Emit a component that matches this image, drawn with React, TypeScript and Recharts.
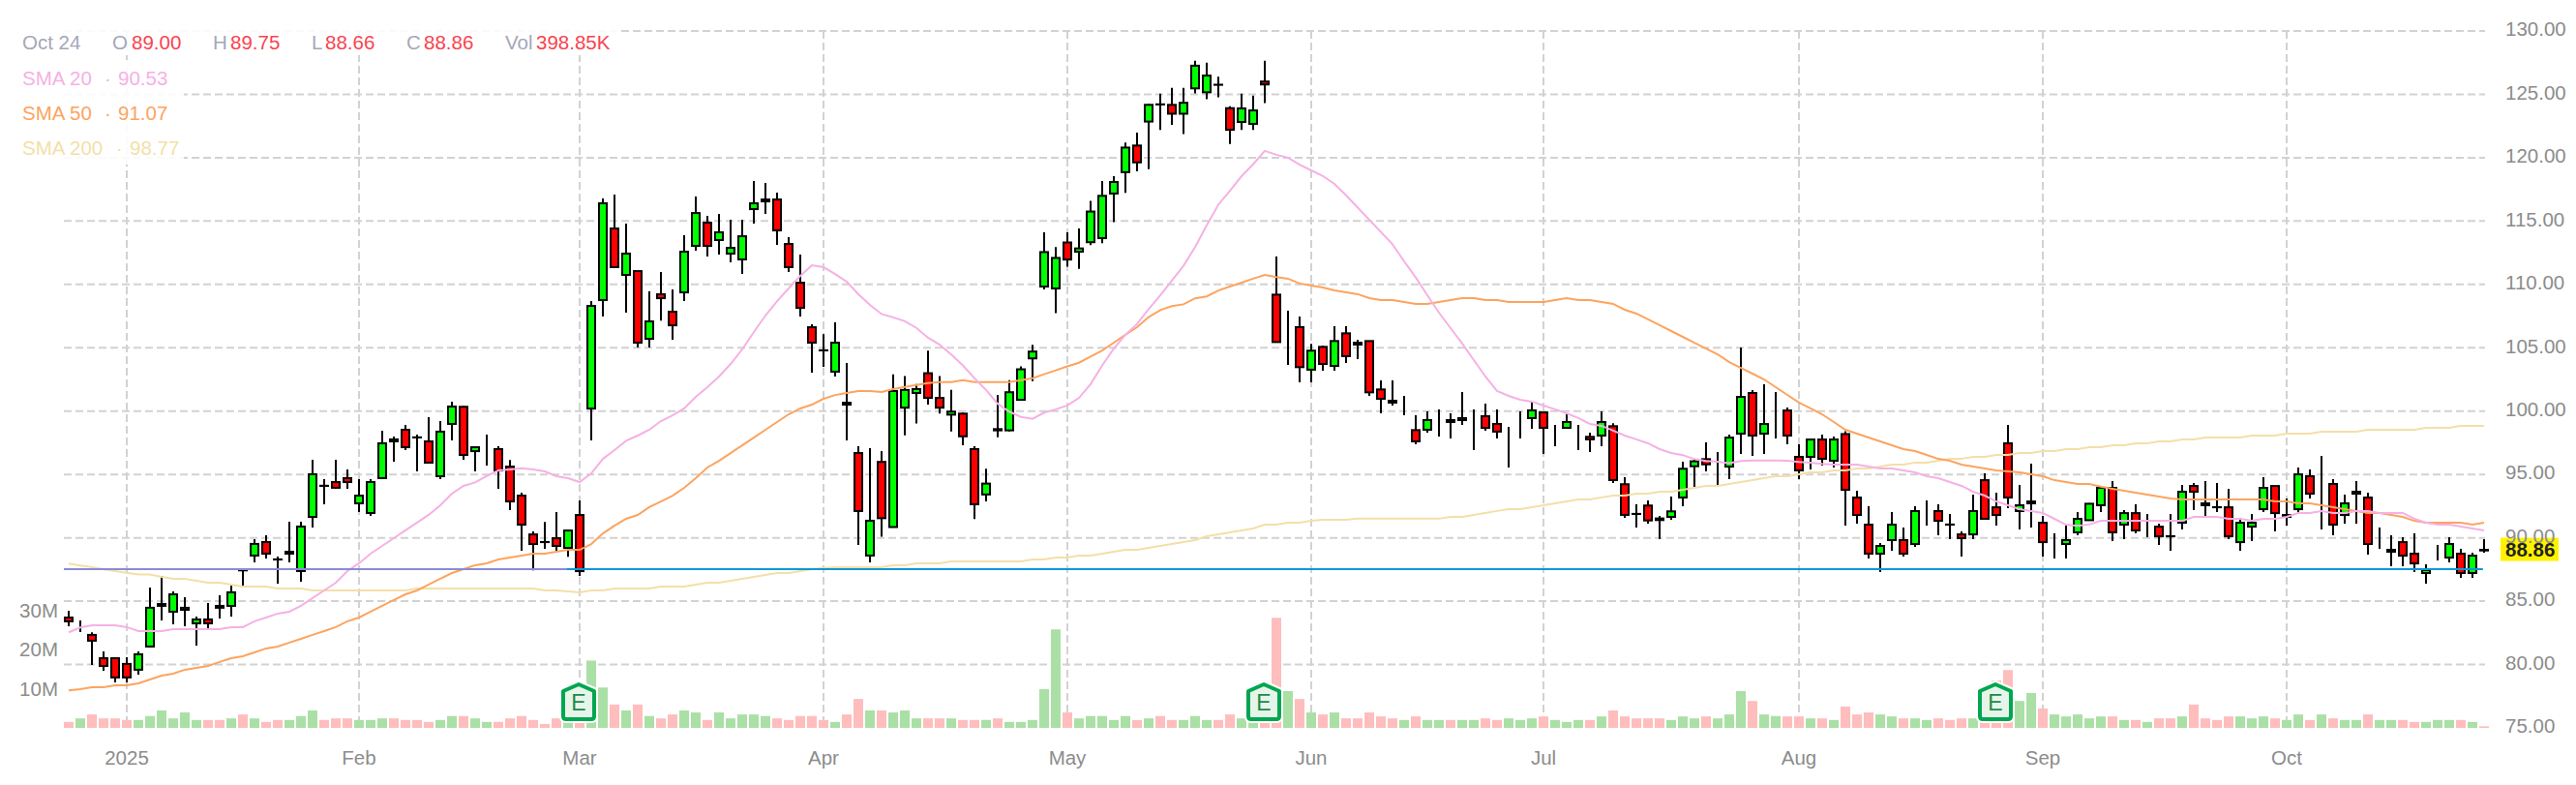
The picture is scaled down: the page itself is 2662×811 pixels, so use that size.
import { ComposedChart, Bar, Line, XAxis, YAxis, CartesianGrid, Cell, ReferenceLine, ReferenceDot } from 'recharts';

const opens = [
  83.71,83.10,82.34,80.50,80.50,80.05,79.59,81.42,84.63,84.17,
  84.32,83.25,83.56,84.63,84.63,87.44,88.60,89.67,88.30,88.75,
  87.38,91.65,94.11,94.40,94.71,92.72,91.96,94.71,97.77,98.53,
  97.93,97.61,94.86,98.99,100.34,96.84,97.00,97.00,95.62,93.33,
  90.27,89.67,89.97,89.20,91.80,100.20,108.76,114.41,110.75,111.05,
  105.70,109.22,107.84,109.37,113.04,114.87,113.50,112.43,111.97,115.94,
  116.55,116.70,113.19,110.13,106.62,104.80,103.11,100.66,96.69,88.60,
  95.99,90.85,100.27,101.43,102.99,101.04,99.72,99.80,97.00,93.42,
  98.58,98.48,100.89,104.16,109.83,109.68,113.31,112.58,113.33,113.65,
  117.17,118.86,120.96,122.85,124.21,124.17,123.47,125.47,125.16,125.76,
  123.91,122.82,122.67,126.01,109.19,106.63,106.63,103.27,105.07,103.57,
  106.14,105.40,105.53,101.71,100.82,100.21,98.50,98.53,98.68,99.29,
  99.29,98.83,99.60,98.99,98.38,98.53,99.45,99.90,98.38,98.68,
  97.61,97.97,98.07,98.81,94.23,91.89,92.55,91.53,91.65,93.18,
  95.65,96.21,95.77,95.62,98.22,101.43,98.22,99.75,100.05,96.39,
  96.39,97.76,96.08,98.19,93.18,91.04,88.75,89.82,89.82,89.51,
  91.65,92.11,91.05,90.27,90.27,94.55,92.41,97.46,92.11,92.72,
  91.19,89.82,89.51,90.43,91.39,92.57,93.94,91.04,91.95,90.88,
  90.88,90.13,91.19,94.09,92.72,92.42,92.41,89.66,90.88,92.26,
  94.09,91.65,92.26,94.86,93.79,94.25,91.80,93.48,93.18,90.12,
  88.90,89.66,88.75,87.22,88.44,88.44,88.75,87.22,89.05,
];

const highs = [
  84.24,83.48,82.54,81.04,80.58,80.58,81.04,86.08,87.00,85.77,
  85.32,83.79,84.86,85.47,86.23,87.58,89.90,90.20,88.52,91.27,
  91.27,96.16,94.63,96.16,95.40,94.63,94.63,98.45,97.99,98.91,
  98.15,99.52,99.22,100.74,100.41,97.22,98.14,97.22,96.15,93.56,
  90.50,91.26,92.03,90.65,92.95,108.68,116.78,117.09,114.79,111.05,
  109.45,110.97,109.60,113.88,116.93,115.41,115.56,115.10,115.10,118.16,
  118.00,117.24,113.72,112.35,106.85,106.08,107.00,103.79,97.22,97.08,
  96.85,102.91,102.76,102.13,104.78,102.76,101.67,99.88,97.23,95.45,
  101.28,102.44,103.53,105.24,114.11,112.94,114.11,114.42,116.60,118.16,
  118.54,121.19,121.97,124.25,125.05,125.52,125.52,127.65,127.49,126.40,
  124.07,125.05,124.90,127.65,112.20,107.93,107.47,105.30,105.15,106.70,
  106.70,105.63,105.56,102.43,102.43,101.20,99.67,99.98,100.13,99.83,
  101.51,100.13,100.59,100.13,98.76,99.98,100.75,99.98,98.91,99.83,
  98.91,98.30,99.98,99.04,94.79,92.65,92.95,91.73,93.26,96.00,
  96.16,97.53,96.77,98.14,105.02,101.66,102.11,101.50,100.28,97.38,
  97.81,98.14,97.99,98.42,93.71,92.49,89.59,92.03,90.81,92.49,
  92.95,92.64,91.88,90.50,93.41,95.09,93.56,98.91,94.17,95.85,
  91.73,90.35,90.96,92.03,92.75,93.99,94.48,92.18,92.64,91.88,
  91.11,91.88,94.17,94.32,94.48,94.32,93.87,91.57,91.88,94.78,
  94.09,93.10,95.55,95.39,96.46,94.63,93.41,94.48,93.56,90.81,
  90.20,90.05,90.35,87.91,89.43,90.05,89.13,88.82,89.89,
];

const lows = [
  83.02,82.57,79.97,79.51,78.59,78.59,79.20,81.34,83.48,83.18,
  83.02,81.50,82.87,83.64,83.79,86.08,88.07,88.37,86.38,88.07,
  86.54,90.81,92.65,93.87,93.87,92.04,91.73,94.63,96.01,96.92,
  95.25,95.86,94.63,97.69,96.16,95.24,95.70,93.86,92.18,88.97,
  87.44,89.13,88.97,88.51,87.00,97.68,107.46,111.36,107.77,105.02,
  105.02,107.15,105.63,108.68,112.66,112.20,112.35,111.74,110.82,114.79,
  115.56,113.11,110.97,107.46,103.03,103.49,102.72,97.68,89.43,88.07,
  90.08,90.85,98.09,99.02,100.52,99.80,98.40,97.31,91.48,92.88,
  97.93,98.40,100.81,102.37,109.60,107.73,111.39,111.23,113.10,113.26,
  114.92,117.22,118.93,119.09,122.18,122.59,121.87,125.08,124.61,124.77,
  121.09,122.18,122.18,124.30,105.40,103.65,102.27,102.27,103.19,103.19,
  103.80,104.11,101.20,99.83,100.44,99.67,97.38,98.30,97.99,97.84,
  98.91,96.93,98.45,97.84,95.55,97.84,98.61,96.62,97.23,98.63,
  96.93,96.77,97.23,94.33,91.58,90.81,91.12,89.90,91.42,92.49,
  94.02,95.24,94.17,94.63,96.62,96.46,96.62,97.84,97.38,94.63,
  95.39,95.70,95.55,90.96,91.11,88.37,87.30,88.98,88.52,89.28,
  90.96,90.20,89.89,88.52,89.89,91.42,90.96,92.34,90.66,90.81,
  88.52,88.37,88.37,90.20,91.35,92.03,89.74,89.89,90.35,90.04,
  89.43,88.98,90.66,92.18,91.57,92.03,89.89,88.98,89.74,92.03,
  90.50,90.96,91.88,93.10,90.66,90.20,91.11,91.11,88.67,89.13,
  87.75,87.75,87.30,86.38,88.21,88.06,86.84,86.84,88.82,
];

const closes = [
  83.41,83.10,81.88,79.89,78.98,78.98,80.81,84.48,84.78,85.54,
  84.48,83.56,83.25,84.48,85.70,87.43,89.52,88.75,88.29,88.90,
  90.89,95.02,94.10,93.95,94.40,93.33,94.40,97.46,97.61,97.15,
  97.92,95.93,98.38,100.36,96.54,97.15,97.00,95.31,92.87,91.04,
  89.51,89.66,89.36,90.58,87.37,108.30,116.40,111.36,112.43,105.40,
  107.08,108.91,106.77,112.58,115.63,113.04,114.11,112.88,113.80,116.40,
  116.70,114.26,111.36,108.15,105.40,104.79,105.40,100.51,92.11,91.35,
  91.55,101.59,101.67,101.74,101.04,100.27,99.96,98.01,92.65,94.28,
  98.48,101.49,103.30,104.70,112.55,112.09,111.96,112.84,115.75,116.99,
  118.08,120.80,119.63,124.17,124.20,123.47,124.33,127.26,126.48,125.75,
  122.20,123.89,123.73,125.78,105.45,106.63,103.47,104.77,103.72,105.53,
  104.34,105.25,101.48,100.97,100.67,100.21,97.61,99.29,98.68,99.14,
  99.45,98.83,98.68,98.38,98.38,98.53,100.06,98.68,98.38,99.14,
  97.61,97.77,99.14,94.56,91.81,91.88,91.37,91.40,92.09,95.45,
  96.04,95.80,95.77,97.91,101.12,98.07,98.98,99.75,98.07,95.32,
  97.76,96.23,97.76,93.79,91.80,88.75,89.36,91.04,88.75,92.11,
  91.65,91.34,91.04,89.97,92.11,91.50,91.80,93.18,92.57,92.87,
  89.66,89.82,89.82,91.50,92.69,93.94,90.43,91.95,90.58,90.88,
  90.12,90.12,93.64,93.64,92.57,92.41,90.12,91.19,91.19,93.94,
  91.95,91.80,95.01,93.48,93.79,91.04,92.72,93.64,89.51,90.12,
  89.05,88.59,87.98,87.45,88.44,89.51,87.22,88.59,89.00,
];

const volumesM = [
  1.5,2.4,3.4,2.4,2.4,2,2,3,4.4,2.4,
  3.9,2,2,2,2.4,3.4,2.4,1.5,2,2,
  3,4.4,2,2.4,2.4,2,2,2.4,2.4,2,
  2,1.5,2,3,3,2.4,1.5,1.5,2.4,3,
  2,1,2.4,1.5,1.5,17,10.2,5.9,4.4,5.9,
  3,2.4,3.4,4.4,3.9,2,3.9,2.4,3.4,3.4,
  3,2.4,2,3,3,2,1.5,3.4,7.3,4.4,
  4.4,3.9,4.4,2.4,2.4,2.4,2.4,2,2,2,
  2.4,1.5,1.5,2,9.8,24.9,3.9,2.4,3,3,
  2,3,2,2.4,3,2,2,3,2,2,
  3.4,2.4,1.5,1.5,27.8,9.3,7.3,3.9,3.4,3.9,
  2.4,2.4,3.9,2.9,2.4,2,2.9,2,2,2,
  2,2,2.4,2,2.4,2,2.4,2.9,2,1.5,
  2,2,2.9,4.4,2.9,2.4,2.4,2.4,2,2.9,
  2.4,2.9,2.4,3.4,9.3,6.8,3.4,3,2.9,2.9,
  2.4,2.4,2,5.4,3.4,3.9,3.4,2.9,2.4,2.4,
  2,2.4,2,2.4,2.4,2,12,14.6,6.8,8.8,
  4.9,3.4,2.9,3.4,2.4,2.9,2.9,2,2,1.5,
  2.4,2.4,2.9,5.9,2.4,2,2.9,2.9,2.4,2.9,
  2.4,2,3.4,2,3.4,2.4,2,2,3.4,2,
  2,2,1.5,1.5,2,2,2,1.5,0.4,
];

const sma20 = [
  82.54,82.92,83.10,83.10,83.10,82.95,82.64,82.64,82.64,82.79,
  82.79,82.79,82.79,82.79,82.95,82.95,83.41,83.71,84.02,84.17,
  84.63,85.24,85.85,86.46,87.38,87.99,88.75,89.36,89.97,90.59,
  91.20,91.81,92.57,93.49,94.10,94.37,94.88,95.32,95.39,95.50,
  95.39,95.24,94.86,94.71,94.40,95.09,96.23,96.92,97.66,98.07,
  98.53,99.21,99.67,100.21,101.12,101.89,102.73,103.72,104.87,106.24,
  107.54,108.68,109.68,110.67,111.51,111.36,110.82,110.21,109.22,108.38,
  107.66,107.40,107.09,106.57,105.79,105.24,104.47,103.61,102.60,101.67,
  100.58,99.96,99.54,99.39,99.88,100.14,100.45,101.04,102.13,103.61,
  104.93,106.02,106.88,108.04,109.13,110.30,111.47,112.94,114.66,116.29,
  117.38,118.54,119.48,120.54,120.23,120.0,119.45,119.0,118.56,117.93,
  117.03,null,null,null,113.17,111.82,110.55,109.15,107.77,106.55,
  105.33,104.03,102.73,101.59,101.2,100.9,100.75,100.44,100.14,99.83,
  99.45,98.99,98.84,98.46,98.07,97.77,97.46,97.0,96.7,96.53,
  96.21,96.06,96.0,95.9,96.06,96.11,96.11,96.11,96.08,95.98,
  95.93,95.83,95.78,95.78,95.78,95.62,95.47,95.47,95.32,95.17,
  94.86,94.71,94.4,94.1,93.64,93.33,92.87,92.57,92.26,92.11,
  91.96,91.5,91.04,90.94,91.05,91.34,91.34,91.34,91.34,91.34,
  91.34,91.34,91.34,91.65,91.65,91.65,91.5,91.5,91.34,91.5,
  91.5,91.65,91.96,91.96,92.11,91.96,91.96,92.11,92.11,91.96,
  91.96,91.96,91.5,91.19,91.04,91.04,90.89,90.73,90.58,
];

const sma50 = [
  77.96,78.06,78.21,78.21,78.36,78.36,78.52,78.82,79.13,79.28,
  79.59,79.74,79.89,80.2,80.5,80.66,80.96,81.27,81.42,81.73,
  82.03,82.34,82.64,82.95,83.41,83.71,84.17,84.63,85.09,85.54,
  85.85,86.31,86.77,87.22,87.53,87.84,87.99,88.29,88.45,88.6,
  88.75,88.75,88.9,89.06,89.05,89.51,90.35,90.96,91.5,91.8,
  92.42,92.87,93.33,93.94,94.71,95.55,96.08,96.69,97.3,97.91,
  98.53,99.14,99.75,100.21,100.51,100.97,101.27,101.43,101.58,101.58,
  101.51,101.74,101.90,102.06,102.21,102.29,102.29,102.45,102.29,102.29,
  102.29,102.29,102.45,102.60,102.91,103.22,103.53,103.82,104.31,104.78,
  105.40,106.02,106.62,107.42,107.97,108.28,108.43,108.90,109.05,109.52,
  109.83,110.14,110.45,110.74,110.58,110.45,110.07,109.91,109.76,109.53,
  109.38,109.23,108.92,108.77,108.77,108.61,108.46,108.46,108.61,108.77,
  108.92,108.92,108.77,108.77,108.61,108.61,108.61,108.61,108.77,108.92,
  108.77,108.77,108.61,108.46,108.0,107.70,107.24,106.78,106.32,105.86,
  105.40,104.94,104.48,103.87,103.41,102.96,102.5,101.89,101.28,100.67,
  100.21,99.75,99.14,98.53,98.22,97.92,97.61,97.31,97.0,96.85,
  96.54,96.23,96.08,95.78,95.62,95.47,95.32,95.24,95.17,95.01,
  94.86,94.55,94.4,94.25,94.25,94.04,93.87,93.71,93.56,93.41,
  93.25,93.10,93.02,93.02,93.02,93.02,93.02,93.02,93.02,93.02,
  92.87,92.87,92.72,92.72,92.57,92.41,92.26,92.11,91.96,91.96,
  91.80,91.65,91.34,91.19,91.19,91.19,91.19,91.04,91.19,
];

const sma200 = [
  87.96,87.81,87.68,87.53,87.38,87.25,87.10,87.10,86.92,86.77,
  86.77,86.61,86.46,86.46,86.31,86.15,86.15,86.15,86.0,86.0,
  86.0,85.85,85.85,85.85,85.85,85.85,85.85,85.85,85.85,85.85,
  86.0,86.0,86.0,86.0,86.0,86.0,86.0,86.0,86.0,86.0,
  86.0,85.85,85.85,85.77,85.69,85.85,85.85,86.0,86.0,86.0,
  86.0,86.15,86.15,86.15,86.31,86.46,86.46,86.61,86.77,86.92,
  87.07,87.22,87.22,87.38,87.53,87.63,87.68,87.68,87.68,87.68,
  87.68,87.84,87.84,87.99,87.99,87.99,88.14,88.14,88.14,88.14,
  88.14,88.14,88.14,88.29,88.29,88.45,88.45,88.6,88.6,88.75,
  88.9,89.06,89.06,89.21,89.36,89.52,89.67,89.82,90.13,90.28,
  90.43,90.59,90.74,91.04,91.04,91.2,91.2,91.35,91.43,91.43,
  91.43,91.51,91.51,91.51,91.51,91.51,91.51,91.51,91.51,91.66,
  91.66,91.81,91.96,92.12,92.27,92.27,92.42,92.57,92.73,92.88,
  93.03,93.03,93.19,93.34,93.34,93.49,93.49,93.64,93.64,93.80,
  93.95,94.10,94.10,94.25,94.41,94.56,94.71,94.87,94.87,95.02,
  95.17,95.17,95.32,95.32,95.48,95.48,95.63,95.78,95.78,95.94,
  95.94,96.09,96.23,96.23,96.39,96.39,96.54,96.54,96.70,96.70,
  96.85,96.85,97.0,97.0,97.16,97.16,97.31,97.31,97.46,97.46,
  97.61,97.61,97.77,97.77,97.92,97.92,97.92,97.92,98.07,98.07,
  98.07,98.22,98.22,98.22,98.38,98.38,98.38,98.38,98.53,98.53,
  98.53,98.53,98.53,98.68,98.68,98.68,98.84,98.84,98.84,
];

// index of the first session of each month, and its label
const monthTicks = [5, 25, 44, 65, 86, 107, 127, 149, 170, 191];
const monthLabels = ['2025', 'Feb', 'Mar', 'Apr', 'May', 'Jun', 'Jul', 'Aug', 'Sep', 'Oct'];
const priceTicks = [75, 80, 85, 90, 95, 100, 105, 110, 115, 120, 125, 130];
const gridPrices = [80, 85, 90, 95, 100, 105, 110, 115, 120, 125, 130];
const volumeTicks = [10, 20, 30];
const earningsSessions = [44, 103, 166];
const supportLevel = 87.52;
const lastClose = 88.86;

const quoteLabels = ['O', 'H', 'L', 'C', 'Vol'];
const quoteValues = ['89.00', '89.75', '88.66', '88.86', '398.85K'];
const smaNames = ['SMA 20', 'SMA 50', 'SMA 200'];
const smaValues = ['90.53', '91.07', '98.77'];

const rows = opens.map((open, i) => ({
  i,
  open,
  high: highs[i],
  low: lows[i],
  close: closes[i],
  volume: volumesM[i],
  sma20: sma20[i],
  sma50: sma50[i],
  sma200: sma200[i],
}));

const FONT = '"Liberation Sans", Arial, sans-serif';
const TEXT_SIZE = 20.5;
const GRID = '#d2d2d2';
const AXIS_TEXT = '#8c8c8c';
const SMA_COLORS = ['#f5b1e4', '#fca45f', '#f3dfa8'];
const X_DOMAIN: [number, number] = [-0.4167, 208.083];

function Candle(props: any) {
  const { x, y, width, height, payload } = props;
  const top = Math.min(y, y + height);
  const span = Math.abs(height);
  const toY = (p: number) => top + ((payload.high - p) / (payload.high - payload.low)) * span;
  const cx = Math.round(x + width / 2);
  const bodyTop = toY(Math.max(payload.open, payload.close));
  const bodyBottom = toY(Math.min(payload.open, payload.close));
  const up = payload.close >= payload.open;
  return (
    <g>
      <line x1={cx} x2={cx} y1={top} y2={top + span} stroke="#000" strokeWidth={2} />
      <rect
        x={cx - 4}
        y={bodyTop}
        width={8}
        height={Math.max(bodyBottom - bodyTop, 0)}
        fill={up ? '#00ff00' : '#ff0000'}
        stroke="#000"
        strokeWidth={2}
      />
    </g>
  );
}

function EarningsBadge(props: any) {
  const { cx, cy } = props;
  const x = cx - 1;
  const path = `M ${x} ${cy - 18} L ${x + 16} ${cy - 11} L ${x + 16} ${cy + 15} Q ${x + 16} ${cy + 18} ${x + 13} ${cy + 18} L ${x - 13} ${cy + 18} Q ${x - 16} ${cy + 18} ${x - 16} ${cy + 15} L ${x - 16} ${cy - 11} Z`;
  return (
    <g>
      <path d={path} fill="none" stroke="#fff" strokeWidth={8} strokeLinejoin="round" />
      <path d={path} fill="#e6f5ea" stroke="#00a651" strokeWidth={4} strokeLinejoin="round" />
      <text x={x} y={cy + 9} textAnchor="middle" fontSize={23} fontFamily={FONT} fill="#1d8a47">E</text>
    </g>
  );
}

function PriceTag(props: any) {
  const { cx, cy } = props;
  return (
    <g>
      <rect x={cx + 17} y={cy - 15} width={60} height={24} fill="#fff200" />
      <text x={cx + 22} y={cy + 4} fontSize={20.5} fontWeight="bold" fontFamily={FONT} fill="#222">{lastClose.toFixed(2)}</text>
    </g>
  );
}

const quoteX = [[116, 136], [220, 238], [322, 336], [420, 438], [522, 554]];
const smaRowY = [69, 105, 141];
const smaValueX = [122, 122, 134];

function Header() {
  const base: any = { position: 'absolute', fontFamily: FONT, fontSize: TEXT_SIZE, lineHeight: '23px', whiteSpace: 'nowrap' };
  return (
    <>
      <div style={{ position: 'absolute', left: 18, top: 26, width: 622, height: 31, background: 'rgba(255,255,255,0.88)' }} />
      <div style={{ position: 'absolute', left: 18, top: 62, width: 172, height: 108, background: 'rgba(255,255,255,0.88)' }} />
      <span style={{ ...base, left: 23, top: 32, color: '#a4a7ba' }}>Oct 24</span>
      {quoteLabels.map((label, i) => (
        <span key={label}>
          <span style={{ ...base, left: quoteX[i][0], top: 32, color: '#a4a7ba' }}>{label}</span>
          <span style={{ ...base, left: quoteX[i][1], top: 32, color: '#f9434f' }}>{quoteValues[i]}</span>
        </span>
      ))}
      {smaNames.map((name, i) => (
        <span key={name}>
          <span style={{ ...base, left: 23, top: smaRowY[i], color: SMA_COLORS[i] }}>{name}</span>
          <span style={{ ...base, left: smaValueX[i] - 14, top: smaRowY[i], color: SMA_COLORS[i] }}>·</span>
          <span style={{ ...base, left: smaValueX[i], top: smaRowY[i], color: SMA_COLORS[i] }}>{smaValues[i]}</span>
        </span>
      ))}
    </>
  );
}

export default function App() {
  return (
    <div style={{ position: 'absolute', left: 0, top: 0, width: 2662, height: 811, background: '#fff', overflow: 'hidden' }}>
      <ComposedChart width={2662} height={811} data={rows} margin={{ top: 32, right: 0, bottom: 0, left: 0 }}>
        <CartesianGrid
          xAxisId="main"
          yAxisId="price"
          stroke={GRID}
          strokeWidth={2}
          strokeDasharray="8 4"
          syncWithTicks
          verticalValues={monthTicks}
          horizontalValues={gridPrices}
        />
        <XAxis
          xAxisId="main"
          dataKey="i"
          type="number"
          domain={X_DOMAIN}
          ticks={monthTicks}
          interval={0}
          height={59}
          tickLine={false}
          axisLine={false}
          tickMargin={17}
          tickFormatter={(v: number) => monthLabels[monthTicks.indexOf(v)]}
          tick={{ fontSize: TEXT_SIZE, fontFamily: FONT, fill: AXIS_TEXT }}
        />
        <XAxis xAxisId="vol" dataKey="i" type="number" domain={X_DOMAIN} hide />
        <YAxis
          yAxisId="volume"
          orientation="left"
          width={66}
          domain={[0, 176]}
          ticks={volumeTicks}
          interval={0}
          tickLine={false}
          axisLine={false}
          tickMargin={0}
          tickFormatter={(v: number) => `${v}M`}
          tick={{ fontSize: TEXT_SIZE, fontFamily: FONT, fill: AXIS_TEXT, dy: 1 }}
        />
        <YAxis
          yAxisId="price"
          orientation="right"
          width={94}
          domain={[75, 130]}
          ticks={priceTicks}
          interval={0}
          tickLine={false}
          axisLine={false}
          tickMargin={15}
          tickFormatter={(v: number) => v.toFixed(2)}
          tick={{ fontSize: TEXT_SIZE, fontFamily: FONT, fill: AXIS_TEXT, dy: -2 }}
        />
        <Bar xAxisId="vol" yAxisId="volume" dataKey="volume" barSize={10} isAnimationActive={false}>
          {rows.map((r) => (
            <Cell key={r.i} fill={r.close >= r.open ? '#aae0a6' : '#ffbdbd'} />
          ))}
        </Bar>
        <Bar
          xAxisId="main"
          yAxisId="price"
          dataKey={(r: any) => [r.low, r.high]}
          barSize={10}
          shape={Candle}
          isAnimationActive={false}
        />
        <Line xAxisId="main" yAxisId="price" dataKey="sma200" stroke={SMA_COLORS[2]} strokeWidth={2} dot={false} connectNulls isAnimationActive={false} />
        <Line xAxisId="main" yAxisId="price" dataKey="sma50" stroke={SMA_COLORS[1]} strokeWidth={2} dot={false} connectNulls isAnimationActive={false} />
        <Line xAxisId="main" yAxisId="price" dataKey="sma20" stroke={SMA_COLORS[0]} strokeWidth={2} dot={false} connectNulls isAnimationActive={false} />
        <ReferenceLine
          xAxisId="main"
          yAxisId="price"
          segment={[{ x: -0.4167, y: supportLevel }, { x: 43, y: supportLevel }]}
          stroke="#8a8ad8"
          strokeWidth={2}
        />
        <ReferenceLine
          xAxisId="main"
          yAxisId="price"
          segment={[{ x: 42.9, y: supportLevel }, { x: 207.9, y: supportLevel }]}
          stroke="#0d97d9"
          strokeWidth={2}
        />
        {earningsSessions.map((s) => (
          <ReferenceDot key={s} xAxisId="main" yAxisId="price" x={s} y={77.06} r={0} shape={EarningsBadge} />
        ))}
        <ReferenceDot xAxisId="main" yAxisId="price" x={208} y={lastClose} r={0} shape={PriceTag} />
      </ComposedChart>
      <Header />
    </div>
  );
}
